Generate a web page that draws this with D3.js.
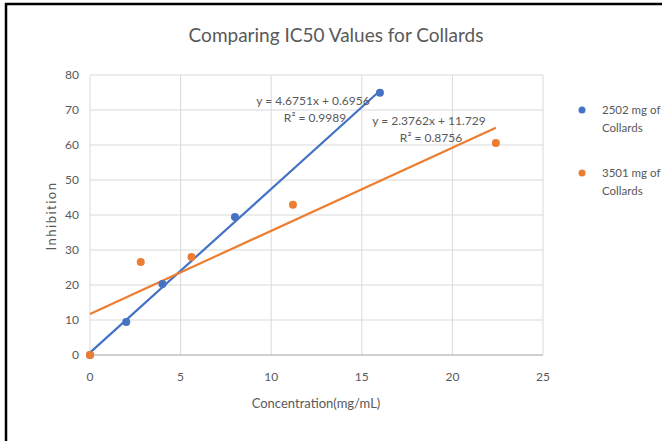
<!DOCTYPE html>
<html><head><meta charset="utf-8">
<script src="https://cdn.jsdelivr.net/npm/d3@7"></script>
<style>
body{margin:0;background:#fff;}
text{font-family:Lato,"Open Sans",sans-serif;}
</style></head>
<body><svg id="c" width="662" height="441"></svg>
<script>
const seriesNames = ["2502 mg of Collards", "3501 mg of Collards"];
const blueX = [0, 2, 4, 8, 16];
const blueY = [0, 9.4, 20.3, 39.4, 74.9];
const orangeX = [0, 2.8, 5.6, 11.2, 22.4];
const orangeY = [0, 26.6, 28, 42.9, 60.6];
const trendSlopes = [4.6751, 2.3762];
const trendIntercepts = [0.6956, 11.729];
const trendEq = ["y = 4.6751x + 0.6956", "y = 2.3762x + 11.729"];
const trendR2 = ["R² = 0.9989", "R² = 0.8756"];
const xTicks = [0, 5, 10, 15, 20, 25];
const yTicks = [0, 10, 20, 30, 40, 50, 60, 70, 80];
const colors = ["#4472c4", "#ed7d31"];

const svg = d3.select("#c");
const x = d3.scaleLinear().domain([0, 25]).range([90, 543]);
const y = d3.scaleLinear().domain([0, 80]).range([355, 75]);

// frame
svg.append("line").attr("x1",5).attr("x2",662).attr("y1",4).attr("y2",4).attr("stroke","#000").attr("stroke-width",2.5);
svg.append("line").attr("x1",6).attr("x2",6).attr("y1",3).attr("y2",441).attr("stroke","#000").attr("stroke-width",2.5);

// gridlines
svg.append("g").selectAll("line").data(yTicks.filter(d=>d>0)).join("line")
  .attr("x1",x(0)).attr("x2",x(25)).attr("y1",d=>y(d)).attr("y2",d=>y(d))
  .attr("stroke","#d9d9d9").attr("stroke-width",1);
svg.append("g").selectAll("line").data(xTicks).join("line")
  .attr("x1",d=>x(d)).attr("x2",d=>x(d)).attr("y1",y(0)).attr("y2",y(80))
  .attr("stroke","#d9d9d9").attr("stroke-width",1);
svg.append("line").attr("x1",x(0)).attr("x2",x(25)).attr("y1",y(0)).attr("y2",y(0))
  .attr("stroke","#bfbfbf").attr("stroke-width",1.5);

// tick labels
svg.append("g").selectAll("text").data(yTicks).join("text")
  .attr("x",79).attr("y",d=>y(d)+4).attr("text-anchor","end")
  .attr("font-size",12).attr("fill","#595959").text(d=>d);
svg.append("g").selectAll("text").data(xTicks).join("text")
  .attr("x",d=>x(d)).attr("y",381).attr("text-anchor","middle")
  .attr("font-size",12).attr("fill","#595959").text(d=>d);

// titles
svg.append("text").attr("x",336).attr("y",42).attr("text-anchor","middle")
  .attr("font-size",19).attr("fill","#595959").text("Comparing IC50 Values for Collards");
svg.append("text").attr("x",316).attr("y",408).attr("text-anchor","middle")
  .attr("font-size",13).attr("fill","#595959").text("Concentration(mg/mL)");
svg.append("text").attr("transform","translate(56,216) rotate(-90)").attr("text-anchor","middle")
  .attr("font-size",13).attr("letter-spacing",1.5).attr("fill","#595959").text("Inhibition");

// trendlines
const xMax = [d3.max(blueX), d3.max(orangeX)];
[0,1].forEach(i=>{
  svg.append("line").attr("x1",x(0)).attr("y1",y(trendIntercepts[i]))
    .attr("x2",x(xMax[i])).attr("y2",y(trendSlopes[i]*xMax[i]+trendIntercepts[i]))
    .attr("stroke",colors[i]).attr("stroke-width",2.2);
});

// points
const sets = [[blueX, blueY],[orangeX, orangeY]];
sets.forEach((s,i)=>{
  svg.append("g").selectAll("circle").data(s[0].map((v,j)=>[v,s[1][j]])).join("circle")
    .attr("cx",d=>x(d[0])).attr("cy",d=>y(d[1])).attr("r",4).attr("fill",colors[i]);
});

// trend labels
const lblPos = [[313,101],[429,121]];
[0,1].forEach(i=>{
  svg.append("text").attr("x",lblPos[i][0]).attr("y",lblPos[i][1]+4).attr("text-anchor","middle")
    .attr("font-size",12).attr("fill","#595959").text(trendEq[i]);
  svg.append("text").attr("x",lblPos[i][0]+2).attr("y",lblPos[i][1]+21).attr("text-anchor","middle")
    .attr("font-size",12).attr("fill","#595959").text(trendR2[i]);
});

// legend
[0,1].forEach(i=>{
  const ly = 110 + i*63;
  svg.append("circle").attr("cx",582).attr("cy",ly).attr("r",3.5).attr("fill",colors[i]);
  const parts = [seriesNames[i].replace(" Collards",""), "Collards"];
  parts.forEach((p,k)=>{
    svg.append("text").attr("x",602).attr("y",ly+4+k*18).attr("font-size",11.5)
      .attr("fill","#595959").text(p);
  });
});
</script></body></html>
